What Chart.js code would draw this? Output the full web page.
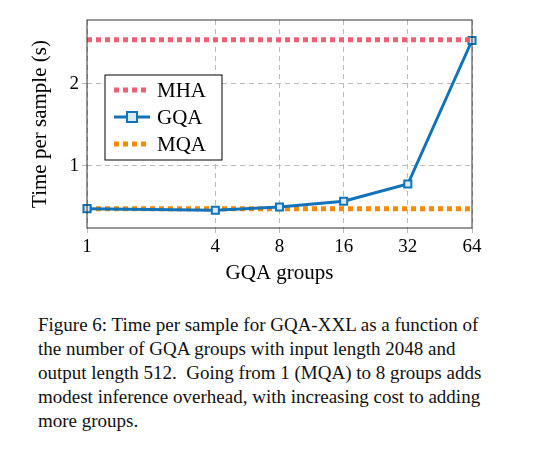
<!DOCTYPE html>
<html>
<head>
<meta charset="utf-8">
<script src="https://cdn.jsdelivr.net/npm/chart.js@4"></script>
<style>
body { margin: 0; background: #fff; width: 540px; height: 458px; overflow: hidden; }
#wrap { position: absolute; left: 0; top: 0; width: 540px; height: 290px; }
#caption { position: absolute; left: 38px; top: 313px; width: 450px; font-family: "Liberation Serif", serif; font-size: 19px; line-height: 24px; color: #111; }
</style>
</head>
<body>
<div id="wrap"><canvas id="grafico"></canvas></div>
<div id="caption">Figure 6: Time per sample for GQA-XXL as a function of the number of GQA groups with input length 2048 and output length 512.&nbsp; Going from 1 (MQA) to 8 groups adds modest inference overhead, with increasing cost to adding more groups.</div>
<script>
// Datos
const grupos = [1, 4, 8, 16, 32, 64];
const tiempoGQA = [0.48, 0.46, 0.50, 0.57, 0.78, 2.53];
const tiempoMHA = [2.54, 2.54];
const tiempoMQA = [0.48, 0.48];
const extremos = [1, 64];
const ticksY = [1, 2];

const serif = '"Liberation Serif", serif';

// Leyenda y marco dibujados sobre el gráfico
const marcoYLeyenda = {
    id: 'marcoYLeyenda',
    afterDraw(chart) {
        const { ctx, chartArea: a } = chart;
        ctx.save();
        ctx.strokeStyle = '#333';
        ctx.lineWidth = 1;
        ctx.setLineDash([]);
        ctx.strokeRect(a.left, a.top, a.right - a.left, a.bottom - a.top);
        // leyenda
        const x = 105, y = 75, w = 117, h = 85;
        ctx.fillStyle = '#fff';
        ctx.fillRect(x, y, w, h);
        ctx.strokeStyle = '#000';
        ctx.strokeRect(x, y, w, h);
        chart.data.datasets.forEach((ds, i) => {
            const cy = y + 15 + i * 27;
            ctx.strokeStyle = ds.borderColor;
            ctx.lineWidth = ds.borderWidth;
            ctx.setLineDash(ds.borderDash || []);
            ctx.beginPath();
            ctx.moveTo(x + 9, cy);
            ctx.lineTo(x + 45, cy);
            ctx.stroke();
            ctx.setLineDash([]);
            if (ds.pointRadius > 0) {
                ctx.fillStyle = '#dbe9f4';
                ctx.lineWidth = 2;
                ctx.fillRect(x + 22, cy - 5, 10, 10);
                ctx.strokeRect(x + 22, cy - 5, 10, 10);
            }
            ctx.fillStyle = '#000';
            ctx.font = '21px ' + serif;
            ctx.textBaseline = 'middle';
            ctx.fillText(ds.label, x + 52, cy + 1);
        });
        ctx.restore();
    }
};

const ctx = document.getElementById('grafico');
new Chart(ctx, {
    type: 'line',
    data: {
        datasets: [
            {
                label: 'MHA',
                data: extremos.map((g, i) => ({ x: g, y: tiempoMHA[i] })),
                borderColor: '#ec5f75',
                borderWidth: 5,
                borderDash: [5, 4],
                pointRadius: 0
            },
            {
                label: 'GQA',
                data: grupos.map((g, i) => ({ x: g, y: tiempoGQA[i] })),
                borderColor: '#1273b8',
                backgroundColor: '#dbe9f4',
                borderWidth: 3,
                pointStyle: 'rect',
                pointRadius: 5,
                pointBorderWidth: 2
            },
            {
                label: 'MQA',
                data: extremos.map((g, i) => ({ x: g, y: tiempoMQA[i] })),
                borderColor: '#f58a07',
                borderWidth: 5,
                borderDash: [5, 4],
                pointRadius: 0
            }
        ]
    },
    options: {
        responsive: true,
        maintainAspectRatio: false,
        animation: false,
        clip: false,
        layout: { padding: { top: 20, right: 68 } },
        plugins: { legend: { display: false }, tooltip: { enabled: false } },
        scales: {
            x: {
                type: 'logarithmic',
                base: 2,
                min: 1,
                max: 64,
                afterBuildTicks: s => { s.ticks = grupos.map(v => ({ value: v })); },
                afterFit: s => { s.height = 62; },
                ticks: { color: '#000', font: { family: serif, size: 19 }, callback: v => String(v), maxRotation: 0, autoSkip: false },
                grid: { color: '#bbb', tickLength: 5, drawTicks: true },
                border: { display: false, dash: [5, 4] },
                title: { display: true, text: 'GQA groups', color: '#000', font: { family: serif, size: 21 }, padding: { top: 2 } }
            },
            y: {
                min: 0.244,
                max: 2.78,
                afterBuildTicks: s => { s.ticks = ticksY.map(v => ({ value: v })); },
                afterFit: s => { s.width = 87; },
                ticks: { color: '#000', font: { family: serif, size: 19 } },
                grid: { color: '#bbb', tickLength: 5 },
                border: { display: false, dash: [5, 4] },
                title: { display: true, text: 'Time per sample (s)', color: '#000', font: { family: serif, size: 21 }, padding: { top: 28, bottom: 0 } }
            }
        }
    },
    plugins: [marcoYLeyenda]
});
</script>
</body>
</html>
